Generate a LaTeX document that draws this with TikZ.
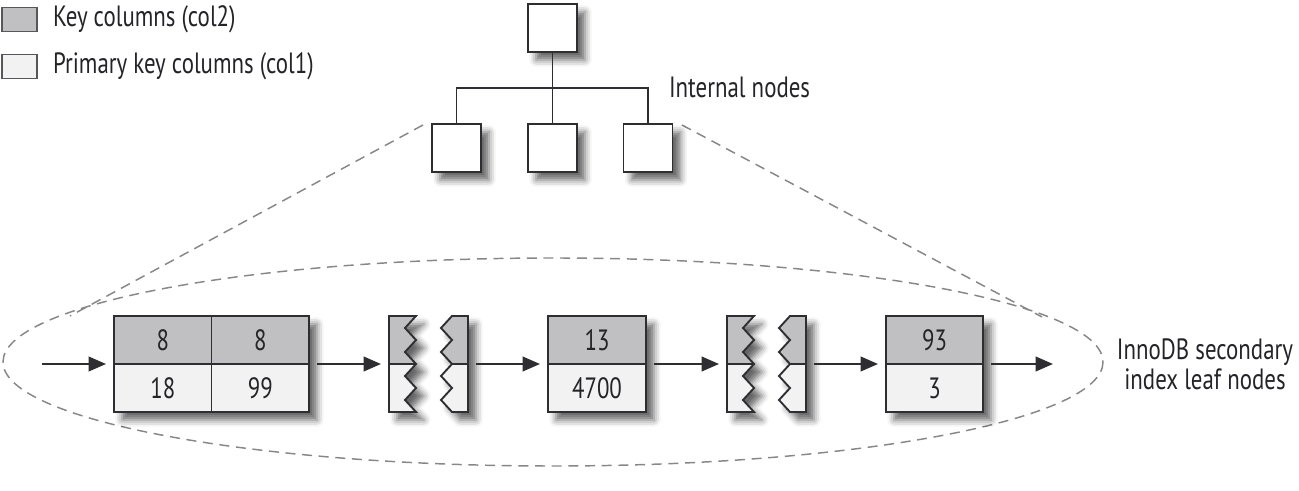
\documentclass[tikz,border=0pt]{standalone}
\usepackage{fontspec}
\setmainfont{PT Sans}[FakeStretch=0.78]
\usetikzlibrary{arrows.meta,shadows.blur}
\definecolor{keycol}{RGB}{192,192,194}
\definecolor{primcol}{RGB}{242,242,242}
\definecolor{linecol}{RGB}{45,45,50}
\definecolor{dashcol}{RGB}{135,135,135}
\definecolor{txtcol}{RGB}{35,35,40}
\newcommand{\brkpair}[1]{%
  \begin{scope}[shift={(#1,0)}]
    % left piece
    \path[fill=primcol,shad] (389,316) -- (416,316) -- (405,328) -- (416,340) -- (405,352) -- (416,364) -- (405,376) -- (416,388) -- (405,400) -- (416,412) -- (389,412) -- cycle;
    \fill[keycol] (389,316) -- (416,316) -- (405,328) -- (416,340) -- (405,352) -- (416,364) -- (389,364) -- cycle;
    \draw[pieceline] (389,316) -- (416,316) -- (405,328) -- (416,340) -- (405,352) -- (416,364) -- (405,376) -- (416,388) -- (405,400) -- (416,412) -- (389,412) -- cycle;
    \draw[pieceline] (389,364) -- (416,364);
    % right piece
    \path[fill=primcol,shad] (452,316) -- (468,316) -- (468,412) -- (452,412) -- (441,400) -- (452,388) -- (441,376) -- (452,364) -- (441,352) -- (452,340) -- (441,328) -- cycle;
    \fill[keycol] (452,316) -- (468,316) -- (468,364) -- (452,364) -- (441,352) -- (452,340) -- (441,328) -- cycle;
    \draw[pieceline] (452,316) -- (468,316) -- (468,412) -- (452,412) -- (441,400) -- (452,388) -- (441,376) -- (452,364) -- (441,352) -- (452,340) -- (441,328) -- cycle;
    \draw[pieceline] (452,364) -- (468,364);
  \end{scope}}
\begin{document}
\begin{tikzpicture}[x=0.75pt,y=-0.75pt,
  font=\fontsize{22}{22.5}\selectfont, text=txtcol,
  shad/.style={blur shadow={shadow xshift=6pt,shadow yshift=-6pt,shadow blur radius=5pt,shadow opacity=60}},
  bx/.style={draw=linecol,line width=1.4pt,inner sep=0pt,outer sep=0pt},
  pieceline/.style={draw=linecol,line width=1.4pt,line join=miter},
  keycell/.style={bx,fill=keycol,minimum width=73.1pt,minimum height=36pt},
  primcell/.style={bx,fill=primcol,minimum width=73.1pt,minimum height=36pt},
  leafbg/.style={inner sep=0pt,outer sep=0pt,fill=primcol,shad,minimum height=72pt},
  ibox/.style={bx,fill=white,shad,minimum width=36.75pt,minimum height=36pt},
  tree/.style={draw=linecol,line width=1.4pt},
  arr/.style={draw=linecol,line width=1.3pt,-{Triangle[length=13pt,width=11pt]},shorten <=6pt,shorten >=6pt},
  dsh/.style={draw=dashcol,line width=1.1pt,dash pattern=on 7.5pt off 5pt},
  legbox/.style={draw=linecol!80,line width=1pt,minimum width=26.25pt,minimum height=18pt,inner sep=0pt},
  lbl/.style={inner sep=0pt,outer sep=0pt}
]
\useasboundingbox (0,0) rectangle (1299,491);

% legend
\node[legbox,fill=keycol] (lk) at (19.5,19.5) {};
\node[lbl,anchor=west] (lkt) at (53,19.5) {Key columns (col2)};
\node[legbox,fill=primcol] (lp) at (19.5,66.5) {};
\node[lbl,anchor=west] (lpt) at (53,66.5) {Primary key columns (col1)};

% dashed ellipse and zoom lines
\draw[dsh] (553,362) ellipse [x radius=550, y radius=104];
\coordinate (dla) at (423,125);
\coordinate (dlb) at (70,316);
\coordinate (dra) at (682,125);
\coordinate (drb) at (1042,317);
\draw[dsh] (dla) -- (dlb);
\draw[dsh] (dra) -- (drb);

% internal nodes
\node[ibox] (root) at (552.5,28) {};
\node[ibox] (c1) at (456.5,148) {};
\node[ibox] (c2) at (552.5,148) {};
\node[ibox] (c3) at (648,148) {};
\draw[tree] (root) -- (c2);
\draw[tree] (c1) -- ++(0,-60) -| (c3);
\node[lbl,anchor=west] (inl) at (669,87) {Internal nodes};

% leaf 1
\node[leafbg,minimum width=146.25pt] (leaf1) at (211.5,364) {};
\node[keycell] (k1a) at (162.75,340) {8};
\node[keycell] (k1b) at (260.25,340) {8};
\node[primcell] (p1a) at (162.75,388) {18};
\node[primcell] (p1b) at (260.25,388) {99};

% break 1
\node[inner sep=0pt,outer sep=0pt,minimum width=59.25pt,minimum height=72pt] (brk1) at (428.5,364) {};
\brkpair{0}

% leaf 2
\node[leafbg,minimum width=73.5pt] (leaf2) at (597,364) {};
\node[keycell,minimum width=73.5pt] (k2) at (597,340) {13};
\node[primcell,minimum width=73.5pt] (p2) at (597,388) {4700};

% break 2
\node[inner sep=0pt,outer sep=0pt,minimum width=59.25pt,minimum height=72pt] (brk2) at (766.5,364) {};
\brkpair{338}

% leaf 3
\node[leafbg,minimum width=72.75pt] (leaf3) at (934.5,364) {};
\node[keycell,minimum width=72.75pt] (k3) at (934.5,340) {93};
\node[primcell,minimum width=72.75pt] (p3) at (934.5,388) {3};

% arrows
\coordinate (start) at (42,364);
\coordinate (finish) at (1053,364);
\draw[arr,shorten <=0pt] (start) -- (leaf1);
\draw[arr] (leaf1) -- (brk1);
\draw[arr] (brk1) -- (leaf2);
\draw[arr] (leaf2) -- (brk2);
\draw[arr] (brk2) -- (leaf3);
\draw[arr,shorten >=0pt] (leaf3) -- (finish);

\node[lbl,align=center] (lbl) at (1205,364) {InnoDB secondary\\[0pt]index leaf nodes};
\end{tikzpicture}
\end{document}
